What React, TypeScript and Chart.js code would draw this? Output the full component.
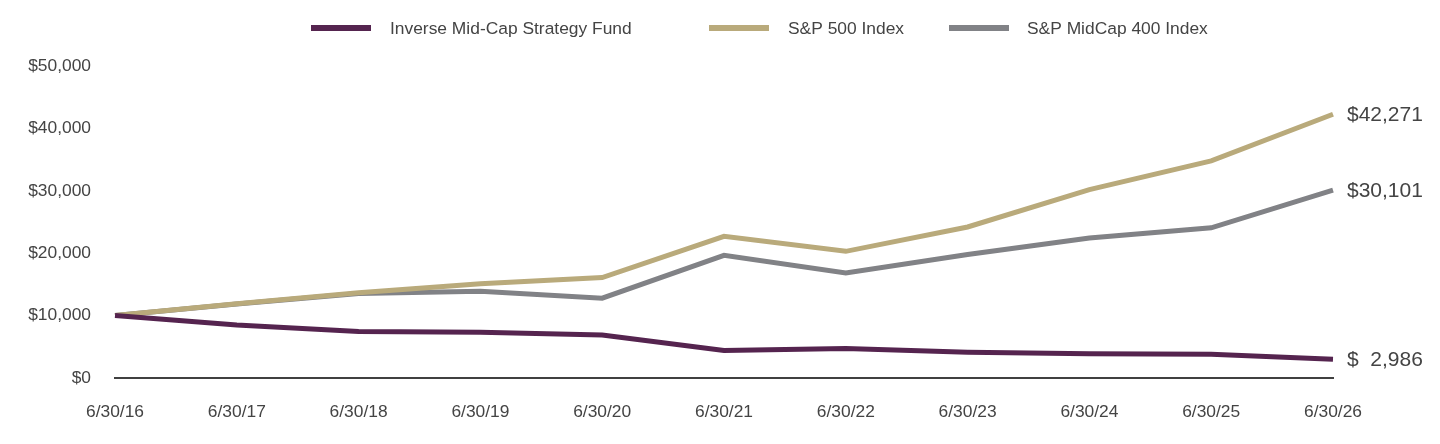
import React, { useEffect, useRef } from "react";
import { Chart, registerables } from "chart.js";

Chart.register(...registerables);

const categories = ["6/30/16", "6/30/17", "6/30/18", "6/30/19", "6/30/20", "6/30/21", "6/30/22", "6/30/23", "6/30/24", "6/30/25", "6/30/26"];
const fundValues = [10000, 8500, 7450, 7350, 6900, 4400, 4720, 4130, 3900, 3800, 2986];
const sp500Values = [10000, 11900, 13650, 15100, 16100, 22700, 20300, 24200, 30200, 34800, 42271];
const midcapValues = [10000, 11850, 13550, 13900, 12800, 19650, 16830, 19800, 22450, 24060, 30101];
const seriesNames = ["Inverse Mid-Cap Strategy Fund", "S&P 500 Index", "S&P MidCap 400 Index"];
const seriesColors = ["#55244f", "#b9aa7b", "#818286"];

const FONT = "'Liberation Sans', Arial, sans-serif";
const TEXT = "#444444";

const fmt = (v: number) => v.toLocaleString("en-US");

const legendPlugin = {
  id: "customLegend",
  afterDraw(chart: any) {
    const ctx = chart.ctx;
    const items = [
      { lx: 311, tx: 390 },
      { lx: 709, tx: 788 },
      { lx: 949, tx: 1027 },
    ];
    ctx.save();
    ctx.font = `17.4px ${FONT}`;
    ctx.textBaseline = "middle";
    items.forEach((it, i) => {
      ctx.strokeStyle = seriesColors[i];
      ctx.lineWidth = 6;
      ctx.beginPath();
      ctx.moveTo(it.lx, 28);
      ctx.lineTo(it.lx + 60, 28);
      ctx.stroke();
      ctx.fillStyle = TEXT;
      ctx.fillText(seriesNames[i], it.tx, 29);
    });
    ctx.restore();
  },
};

const endLabelPlugin = {
  id: "endLabels",
  afterDatasetsDraw(chart: any) {
    const ctx = chart.ctx;
    ctx.save();
    ctx.font = `21px ${FONT}`;
    ctx.fillStyle = TEXT;
    ctx.textBaseline = "middle";
    ctx.textAlign = "left";
    chart.data.datasets.forEach((ds: any, i: number) => {
      const meta = chart.getDatasetMeta(i);
      const last = meta.data[meta.data.length - 1];
      const v = ds.data[ds.data.length - 1];
      const label = v < 10000 ? "$  " + fmt(v) : "$" + fmt(v);
      ctx.fillText(label, last.x + 14, last.y + 1);
    });
    ctx.restore();
  },
};

export default function App() {
  const ref = useRef<HTMLCanvasElement>(null);
  useEffect(() => {
    if (!ref.current) return;
    const chart = new Chart(ref.current, {
      type: "line",
      data: {
        labels: categories,
        datasets: [fundValues, sp500Values, midcapValues].map((d, i) => ({
          label: seriesNames[i],
          data: d,
          borderColor: seriesColors[i],
          backgroundColor: seriesColors[i],
          borderWidth: 5,
          pointRadius: 0,
          tension: 0,
          fill: false,
        })),
      },
      options: {
        animation: false,
        responsive: false,
        maintainAspectRatio: false,
        layout: { padding: { top: 66, right: 107, left: 0, bottom: 0 } },
        plugins: {
          legend: { display: false },
          tooltip: { enabled: false },
        },
        scales: {
          x: {
            offset: false,
            grid: { display: false, drawTicks: false },
            border: { display: true, color: "#404040", width: 2 },
            ticks: {
              color: TEXT,
              font: { family: FONT, size: 17.4 },
              padding: 24,
              maxRotation: 0,
              autoSkip: false,
            },
            afterFit(scale: any) {
              scale.height = 66;
            },
          },
          y: {
            min: 0,
            max: 50000,
            grid: { display: false, drawTicks: false },
            border: { display: false },
            ticks: {
              stepSize: 10000,
              color: TEXT,
              font: { family: FONT, size: 17.4 },
              padding: 24,
              callback: (v: any) => "$" + fmt(Number(v)),
            },
            afterFit(scale: any) {
              scale.width = 115;
            },
          },
        },
      },
      plugins: [legendPlugin, endLabelPlugin],
    });
    return () => chart.destroy();
  }, []);
  return (
    <div style={{ position: "fixed", left: 0, top: 0, width: 1440, height: 444, background: "#fff" }}>
      <canvas ref={ref} width={1440} height={444} style={{ width: 1440, height: 444, display: "block" }} />
    </div>
  );
}
